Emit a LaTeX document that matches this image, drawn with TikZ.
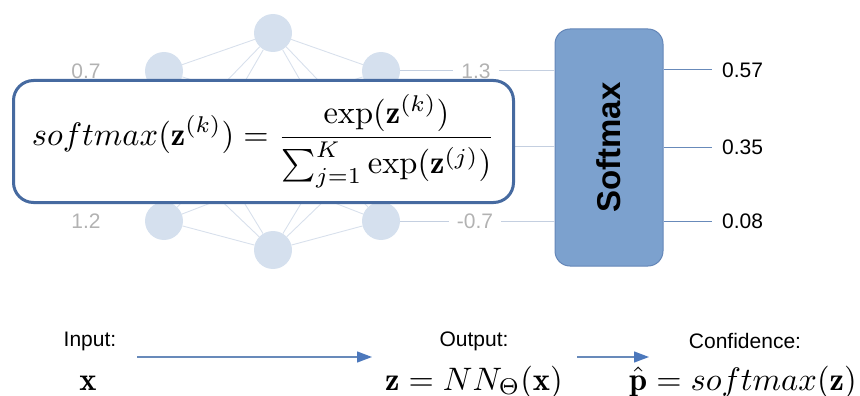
\documentclass[tikz,border=0pt]{standalone}
\usepackage{amsmath}
\usepackage{fontspec}
\newfontfamily\arialfont{Liberation Sans}
\usetikzlibrary{arrows.meta}

\definecolor{nnfill}{RGB}{213,224,238}
\definecolor{nnedge}{RGB}{216,224,236}
\definecolor{fadetext}{RGB}{178,178,178}
\definecolor{fadelink}{RGB}{196,207,224}
\definecolor{boxblue}{RGB}{70,106,160}
\definecolor{softfill}{RGB}{124,161,206}
\definecolor{softdraw}{RGB}{100,134,184}
\definecolor{linkblue}{RGB}{104,138,186}
\definecolor{arrowblue}{RGB}{76,120,188}

\newcommand{\scaledmath}[1]{\scalebox{3.25}{\normalsize$\displaystyle #1$}}

\begin{document}
\begin{tikzpicture}[
  x=1pt,
  y=-1pt,
  font=\arialfont\fontsize{21}{25}\selectfont,
  neuron/.style={circle,fill=nnfill,minimum size=38pt,inner sep=0pt},
  synapse/.style={draw=nnedge,line width=0.9pt},
  faded/.style={text=fadetext,inner xsep=8pt},
  fadeline/.style={draw=fadelink,line width=1pt},
  formulabox/.style={draw=boxblue,line width=3pt,fill=white,rounded corners=20pt,
    minimum width=500pt,minimum height=122pt,inner sep=0pt},
  softbox/.style={draw=softdraw,fill=softfill,line width=1pt,rounded corners=15pt,
    minimum width=108pt,minimum height=237pt,inner sep=0pt},
  probline/.style={draw=linkblue,line width=1pt},
  flow/.style={draw=linkblue,line width=1.3pt,
    -{Triangle[length=15pt,width=11pt,color=arrowblue]}}
]
\useasboundingbox (0,0) rectangle (860,396);

% Faded network in the background
\foreach \n/\y in {1/71,2/146,3/221} {
  \node[neuron] (l\n) at (164,\y) {};
  \node[neuron] (r\n) at (381,\y) {};
}
\foreach \n/\y in {1/33,2/106,3/179,4/250}
  \node[neuron] (c\n) at (273,\y) {};
\foreach \i in {1,2,3}
  \foreach \j in {1,2,3,4} {
    \draw[synapse] (l\i) -- (c\j);
    \draw[synapse] (c\j) -- (r\i);
  }

% Faded values
\node[faded] (a1) at (86,71) {0.7};
\node[faded] (a3) at (86,221) {1.2};
\node[faded] (v1) at (476,71) {1.3};
\node[faded] (v3) at (475,221) {-0.7};

% Softmax block
\node[softbox] (soft) at (609,147.5)
  {\rotatebox{90}{\fontsize{33}{38}\selectfont\bfseries Softmax}};

\draw[fadeline] (r1) -- (v1);
\draw[fadeline] (v1) -- (v1 -| soft.west);
\draw[fadeline] (r2) -- (r2 -| soft.west);
\draw[fadeline] (r3) -- (v3);
\draw[fadeline] (v3) -- (v3 -| soft.west);

% Formula on top
\node[formulabox] (softdef) at (263.5,141.5)
  {\scaledmath{softmax(\mathbf{z}^{(k)}) =
   \frac{\exp(\mathbf{z}^{(k)})}{\sum_{j=1}^{K}\exp(\mathbf{z}^{(j)})}}};

% Probabilities
\foreach \n/\y/\p in {1/70/0.57,2/147/0.35,3/221/0.08} {
  \node[anchor=west,inner xsep=10pt] (p\n) at (712,\y) {\p};
  \draw[probline] (soft.east |- p\n.west) -- (p\n.west);
}

% Pipeline at the bottom
\node (inlab) at (90,341) {Input:};
\node (outlab) at (474,341) {Output:};
\node (conflab) at (745,341) {Confidence:};
\node[anchor=base] (inx) at (88,390) {\scaledmath{\mathbf{x}}};
\node[anchor=base] (outz) at (474,390)
  {\scaledmath{\mathbf{z} = NN_\Theta(\mathbf{x})}};
\node[anchor=base] (confp) at (743,390)
  {\scaledmath{\hat{\mathbf{p}} = softmax(\mathbf{z})}};

\coordinate (f1s) at (137,357);
\coordinate (f1e) at (372,357);
\coordinate (f2s) at (577,357);
\coordinate (f2e) at (649,357);
\draw[flow] (f1s) -- (f1e);
\draw[flow] (f2s) -- (f2e);

\end{tikzpicture}
\end{document}
